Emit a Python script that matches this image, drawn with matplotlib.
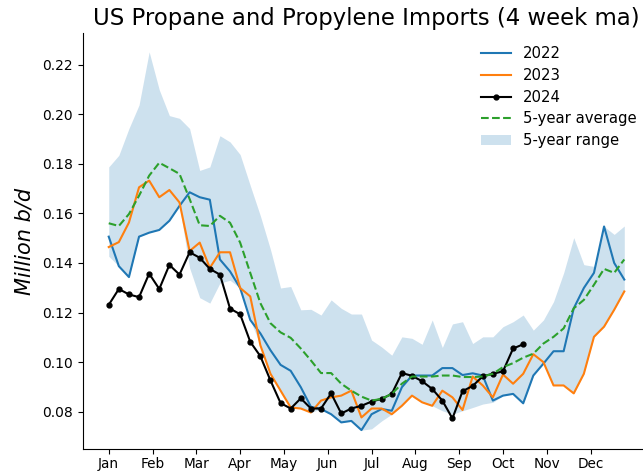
import numpy as np
import matplotlib
matplotlib.use("Agg")
import matplotlib.pyplot as plt

weeks = np.arange(1, 53)
month_labels = ["Jan", "Feb", "Mar", "Apr", "May", "Jun",
                "Jul", "Aug", "Sep", "Oct", "Nov", "Dec"]

imports_2022 = [0.1506, 0.1387, 0.1343, 0.1506, 0.1522, 0.1533, 0.1570, 0.1630,
                0.1685, 0.1665, 0.1655, 0.1414, 0.1366, 0.1299, 0.1170, 0.1116,
                0.1048, 0.0989, 0.0965, 0.0899, 0.0820, 0.0811, 0.0790, 0.0757,
                0.0763, 0.0726, 0.0790, 0.0811, 0.0804, 0.0899, 0.0946, 0.0946,
                0.0946, 0.0976, 0.0976, 0.0948, 0.0955, 0.0946, 0.0845, 0.0865,
                0.0872, 0.0834, 0.0946, 0.0994, 0.1044, 0.1044, 0.1217, 0.1299,
                0.1360, 0.1547, 0.1400, 0.1333]

imports_2023 = [0.1464, 0.1484, 0.1563, 0.1705, 0.1732, 0.1665, 0.1694, 0.1644,
                0.1448, 0.1482, 0.1380, 0.1443, 0.1443, 0.1299, 0.1265, 0.1068,
                0.0953, 0.0885, 0.0817, 0.0813, 0.0797, 0.0845, 0.0858, 0.0865,
                0.0885, 0.0777, 0.0813, 0.0813, 0.0790, 0.0824, 0.0865, 0.0838,
                0.0824, 0.0885, 0.0858, 0.0807, 0.0942, 0.0906, 0.0858, 0.0950,
                0.0913, 0.0953, 0.1032, 0.1000, 0.0906, 0.0906, 0.0874, 0.0953,
                0.1102, 0.1143, 0.1211, 0.1285]

imports_2024 = [0.1231, 0.1295, 0.1273, 0.1262, 0.1357, 0.1295, 0.1392, 0.1353,
                0.1443, 0.1421, 0.1376, 0.1353, 0.1216, 0.1193, 0.1082, 0.1024,
                0.0926, 0.0835, 0.0813, 0.0854, 0.0813, 0.0813, 0.0874, 0.0793,
                0.0813, 0.0824, 0.0841, 0.0852, 0.0872, 0.0956, 0.0945, 0.0923,
                0.0892, 0.0845, 0.0773, 0.0883, 0.0904, 0.0943, 0.0953, 0.0963,
                0.1055, 0.1072]

avg_5yr = [0.1560, 0.1549, 0.1597, 0.1671, 0.1752, 0.1804, 0.1782, 0.1759,
           0.1658, 0.1552, 0.1549, 0.1590, 0.1562, 0.1482, 0.1360, 0.1238,
           0.1157, 0.1120, 0.1098, 0.1055, 0.1007, 0.0956, 0.0956, 0.0913,
           0.0885, 0.0861, 0.0845, 0.0852, 0.0872, 0.0913, 0.0942, 0.0942,
           0.0942, 0.0946, 0.0946, 0.0940, 0.0940, 0.0942, 0.0953, 0.0980,
           0.0996, 0.1018, 0.1034, 0.1075, 0.1102, 0.1136, 0.1217, 0.1251,
           0.1312, 0.1376, 0.1360, 0.1414]

range_high = [0.1787, 0.1834, 0.1942, 0.2037, 0.2251, 0.2098, 0.1994, 0.1983,
              0.1942, 0.1773, 0.1787, 0.1913, 0.1888, 0.1837, 0.1712, 0.1590,
              0.1454, 0.1299, 0.1305, 0.1211, 0.1213, 0.1190, 0.1251, 0.1217,
              0.1194, 0.1194, 0.1089, 0.1061, 0.1028, 0.1102, 0.1096, 0.1072,
              0.1170, 0.1059, 0.1154, 0.1163, 0.1075, 0.1102, 0.1102, 0.1143,
              0.1163, 0.1190, 0.1129, 0.1170, 0.1244, 0.1360, 0.1502, 0.1393,
              0.1386, 0.1547, 0.1515, 0.1549]

range_low = [0.1427, 0.1387, 0.1343, 0.1506, 0.1522, 0.1533, 0.1570, 0.1630,
             0.1380, 0.1260, 0.1238, 0.1319, 0.1330, 0.1299, 0.1170, 0.1068,
             0.0953, 0.0885, 0.0817, 0.0813, 0.0797, 0.0811, 0.0790, 0.0757,
             0.0763, 0.0726, 0.0731, 0.0763, 0.0790, 0.0824, 0.0865, 0.0838,
             0.0824, 0.0804, 0.0790, 0.0804, 0.0817, 0.0831, 0.0838, 0.0865,
             0.0872, 0.0834, 0.0946, 0.0994, 0.0906, 0.0906, 0.0874, 0.0953,
             0.1102, 0.1143, 0.1211, 0.1285]

fig = plt.figure(figsize=(6.43, 4.71), dpi=100)
ax = fig.add_axes([0.129, 0.0467, 0.882, 0.8833])

ax.fill_between(weeks, range_low, range_high, color="tab:blue", alpha=0.22,
                linewidth=0, label="5-year range")
ax.plot(weeks, imports_2022, color="tab:blue", lw=1.5, label="2022")
ax.plot(weeks, imports_2023, color="tab:orange", lw=1.5, label="2023")
ax.plot(weeks[:len(imports_2024)], imports_2024, color="black", lw=1.5,
        marker="o", markersize=3.5, label="2024")
ax.plot(weeks, avg_5yr, color="tab:green", lw=1.5, ls="--", label="5-year average")

month_pos = 1 + np.arange(12) * 52 / 12
ax.set_xticks(month_pos)
ax.set_xticklabels(month_labels, fontsize=9.8)
ax.tick_params(axis="x", pad=2.0, length=3.5)
ax.set_yticks([0.08, 0.10, 0.12, 0.14, 0.16, 0.18, 0.20, 0.22])
ax.set_yticklabels(["0.08", "0.10", "0.12", "0.14", "0.16", "0.18", "0.20", "0.22"],
                   fontsize=10)

for side in ("top", "right"):
    ax.spines[side].set_visible(False)

ax.set_ylabel("Million b/d", fontsize=15, style="italic", labelpad=6)
ax.set_title("US Propane and Propylene Imports (4 week ma)", fontsize=16.4)

handles, labels = ax.get_legend_handles_labels()
order = ["2022", "2023", "2024", "5-year average", "5-year range"]
hmap = dict(zip(labels, handles))
ax.legend([hmap[k] for k in order], order, loc="upper right", frameon=False,
          fontsize=10.7, labelspacing=0.45, bbox_to_anchor=(1.0, 1.0))

fig.savefig("out.png", dpi=100)
